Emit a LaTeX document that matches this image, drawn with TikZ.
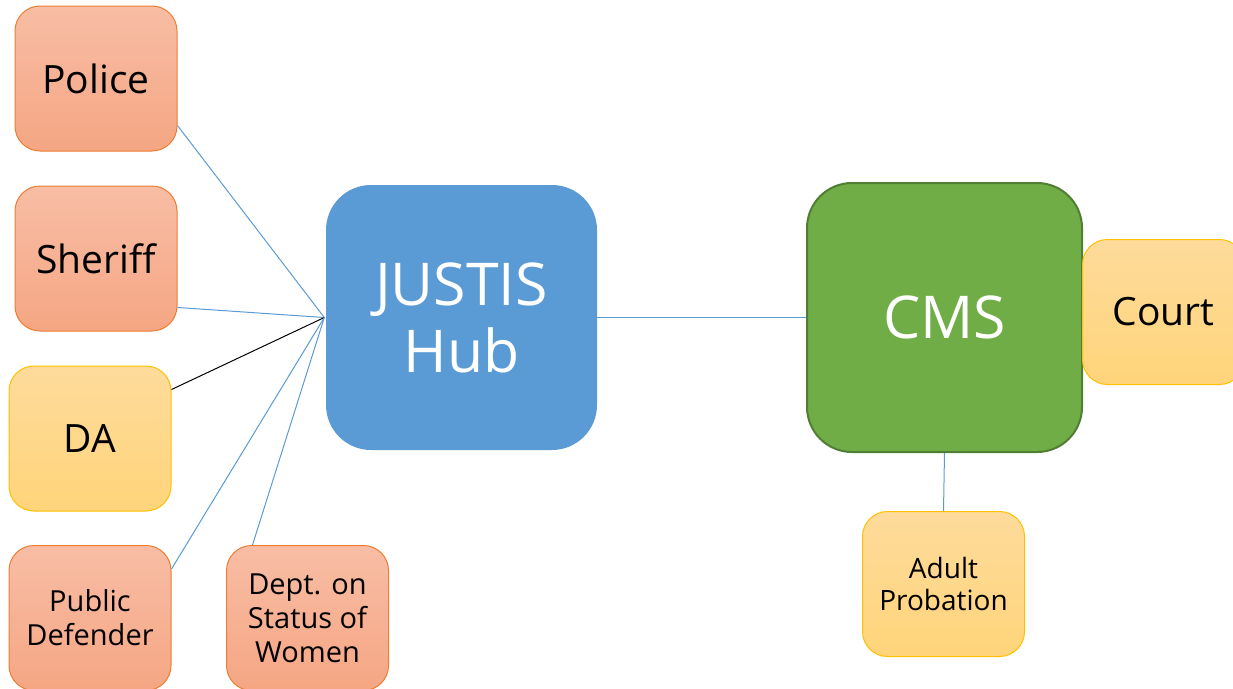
\documentclass[tikz,border=0pt]{standalone}
\usepackage{fontspec}
\setmainfont{Open Sans}
\definecolor{orangetop}{RGB}{248,189,165}
\definecolor{orangebot}{RGB}{245,166,131}
\definecolor{orangeline}{RGB}{237,125,49}
\definecolor{yellowtop}{RGB}{254,219,155}
\definecolor{yellowbot}{RGB}{255,212,122}
\definecolor{yellowline}{RGB}{255,192,0}
\definecolor{hubblue}{RGB}{91,155,213}
\definecolor{cmsgreen}{RGB}{112,173,71}
\definecolor{cmsline}{RGB}{80,126,50}
\newcommand{\bigtxt}{\fontsize{39}{44}\selectfont}
\newcommand{\midtxt}{\fontsize{29}{34}\selectfont}
\newcommand{\smalltxt}{\fontsize{28}{32}\selectfont}
\newcommand{\hugetxt}{\fontsize{59}{67}\selectfont}

\tikzset{
  box/.style={rounded corners=25pt, minimum width=162pt, minimum height=145pt,
              inner sep=0pt, align=center, line width=1pt},
  agency/.style={box, draw=orangeline, top color=orangetop, bottom color=orangebot},
  office/.style={box, draw=yellowline, top color=yellowtop, bottom color=yellowbot},
  system/.style={rounded corners=45pt, inner sep=0pt, align=center, text=white,
                 font=\hugetxt},
  link/.style={draw=hubblue, line width=1pt},
}

\begin{document}
\begin{tikzpicture}[x=1pt, y=-1pt]
 \useasboundingbox (0,0) rectangle (1233,688);

 \node[agency, font=\bigtxt] (police)  at (96, 78.5)   {Police};
 \node[agency, font=\bigtxt] (sheriff) at (96, 258.5)  {Sheriff};
 \node[office, font=\bigtxt] (da)      at (90, 438.5)  {DA};
 \node[agency, font=\midtxt] (pubdef)  at (90, 618)    {Public\\Defender};
 \node[agency, font=\midtxt] (dsw)     at (307.5, 618) {Dept. on\\Status of\\Women};

 \node[system, fill=hubblue, minimum width=271pt, minimum height=265pt]
   (hub) at (461.5, 317.5) {JUSTIS\\Hub};
 \node[system, fill=cmsgreen, draw=cmsline, line width=2pt,
       minimum width=275pt, minimum height=269pt]
   (cms) at (944.5, 317.5) {CMS};

 \node[office, font=\bigtxt]   (court)     at (1163.5, 312) {Court};
 \node[office, font=\smalltxt] (probation) at (943.5, 584)  {Adult\\Probation};

 \coordinate (hubin) at ([xshift=-1.5pt]hub.west);

 % agencies into the hub
 \path[link] (police.-30)  -- (hubin);
 \path[link] (sheriff.-31) -- (hubin);
 \draw[line width=1pt] (da.31) -- (hubin);
 \path[link] (pubdef.31)   -- (hubin);
 \path[link] (dsw.127)     -- (hubin);

 % hub to cms
 \path[link] (hub.east) -- (cms.west);
 \path[link] (cms.south) -- (probation.north);
\end{tikzpicture}
\end{document}
